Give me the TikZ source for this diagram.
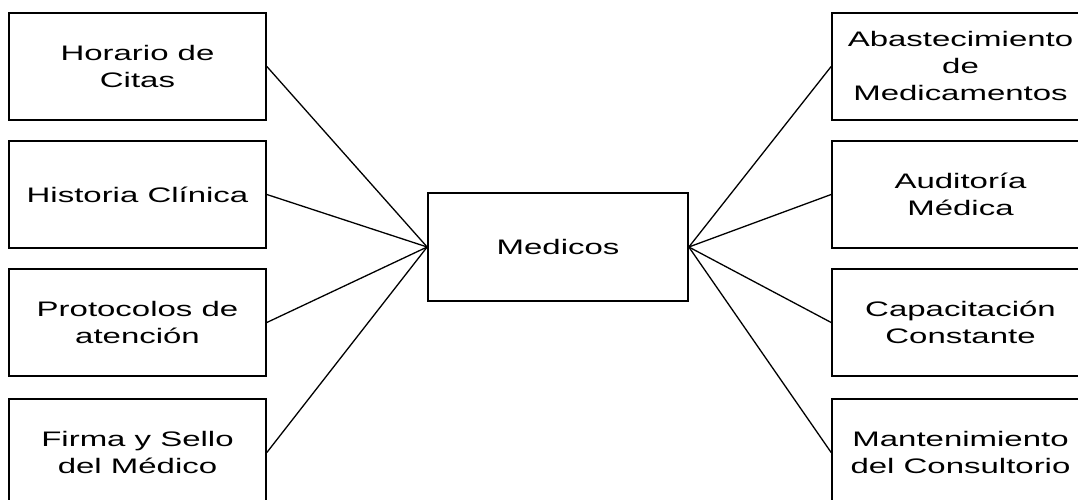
\documentclass[tikz,border=0pt]{standalone}
\usepackage{fontspec}
\setmainfont{Liberation Sans}[FakeStretch=1.57]
\usepackage{tikz}
\usetikzlibrary{positioning}
\tikzset{>=latex}
\tikzstyle{caja} = [rectangle, draw, line width=1.7pt, minimum width=257pt, minimum height=107pt, inner sep=0, align=center, font=\fontsize{21}{27}\selectfont]
\tikzstyle{enlace} = [-, line width=1.3pt]

\begin{document}
\begin{tikzpicture}[x=1pt, y=1pt]
\useasboundingbox (0,0) rectangle (1078,500);
\clip (0,0) rectangle (1078,500);
%centro
\node [caja, minimum width=260pt, minimum height=108pt] (M) at (558, 253) {Medicos};
%izquierda
\node [caja] (H) at (137.5, 433.5) {Horario de\\Citas};
\node [caja] (HC) at (137.5, 305.5) {Historia Clínica};
\node [caja] (P) at (137.5, 177.5) {Protocolos de\\atención};
\node [caja] (F) at (137.5, 47.5) {Firma y Sello\\del Médico};
%derecha
\node [caja] (AB) at (960.5, 433.5) {Abastecimiento\\de\\Medicamentos};
\node [caja] (AU) at (960.5, 305.5) {Auditoría\\Médica};
\node [caja] (C) at (960.5, 177.5) {Capacitación\\Constante};
\node [caja] (MC) at (960.5, 47.5) {Mantenimiento\\del Consultorio};
\draw [enlace] (H.east) to (M.west);
\draw [enlace] (HC.east) to (M.west);
\draw [enlace] (P.east) to (M.west);
\draw [enlace] (F.east) to (M.west);
\draw [enlace] (M.east) to (AB.west);
\draw [enlace] (M.east) to (AU.west);
\draw [enlace] (M.east) to (C.west);
\draw [enlace] (M.east) to (MC.west);
\end{tikzpicture}
\end{document}
